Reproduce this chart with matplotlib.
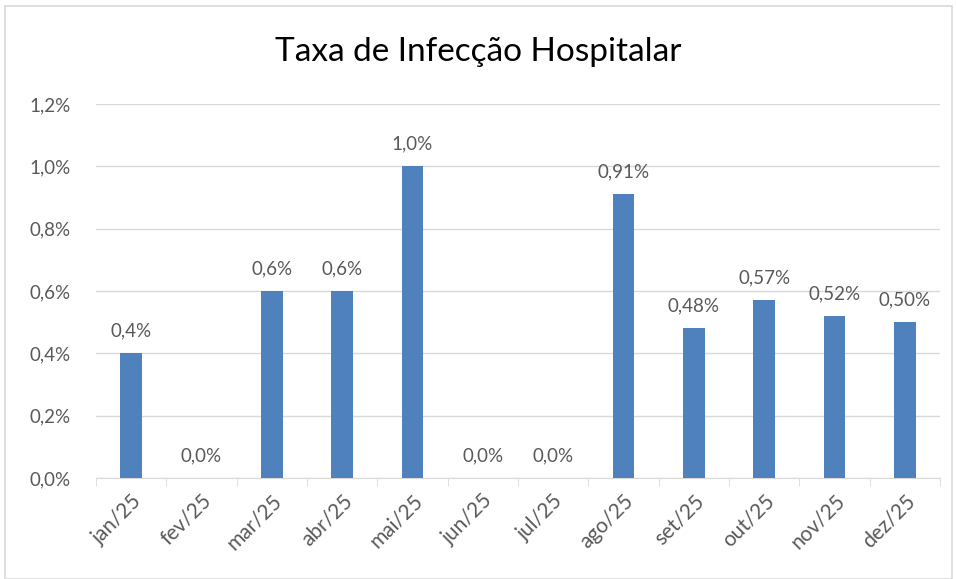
import numpy as np
import matplotlib
matplotlib.use("Agg")
import matplotlib.pyplot as plt
from matplotlib.patches import Rectangle

# data
meses   = ["jan/25", "fev/25", "mar/25", "abr/25", "mai/25", "jun/25",
           "jul/25", "ago/25", "set/25", "out/25", "nov/25", "dez/25"]
taxas   = [0.4, 0.0, 0.6, 0.6, 1.0, 0.0, 0.0, 0.91, 0.48, 0.57, 0.52, 0.50]
rotulos = ["0,4%", "0,0%", "0,6%", "0,6%", "1,0%", "0,0%",
           "0,0%", "0,91%", "0,48%", "0,57%", "0,52%", "0,50%"]
yticks  = [0.0, 0.2, 0.4, 0.6, 0.8, 1.0, 1.2]

plt.rcParams["font.family"] = ["Lato", "DejaVu Sans"]
cinza = "#595959"

fig = plt.figure(figsize=(9.57, 5.79), dpi=100)
# outer border like the Excel chart frame
fig.patches.append(Rectangle((0.005, 0.0), 0.99, 0.99, transform=fig.transFigure,
                             fill=False, edgecolor="#d9d9d9", lw=1.2))
ax = fig.add_axes([96/957, 1 - 478/579, (940 - 96)/957, (478 - 104)/579])

x = np.arange(len(meses))
ax.bar(x, taxas, width=0.31, color="#4f81bd", zorder=3)

for xi, v, r in zip(x, taxas, rotulos):
    ax.text(xi, v + 0.045, r, ha="center", va="bottom", fontsize=13.5, color=cinza)

ax.set_xlim(-0.5, len(meses) - 0.5)
ax.set_ylim(0, 1.2)
ax.set_yticks(yticks)
ax.set_yticklabels([f"{t:.1f}%".replace(".", ",") for t in yticks], fontsize=13.5, color=cinza)
ax.set_xticks(x)
ax.set_xticklabels(meses, rotation=45, ha="right", rotation_mode="anchor", fontsize=15, color=cinza)
ax.set_xticks(np.arange(len(meses) + 1) - 0.5, minor=True)

ax.grid(axis="y", color="#d9d9d9", lw=1, zorder=0)
for s in ["top", "right", "left"]:
    ax.spines[s].set_visible(False)
ax.spines["bottom"].set_color("#d9d9d9")
ax.tick_params(axis="y", length=0, pad=18)
ax.tick_params(axis="x", which="major", length=0, pad=9)
ax.tick_params(axis="x", which="minor", length=6, color="#d9d9d9")

fig.text(0.5, 1 - 52/579, "Taxa de Infecção Hospitalar", ha="center", va="center",
         fontsize=24, color="black")

plt.savefig("out.png", dpi=100)
